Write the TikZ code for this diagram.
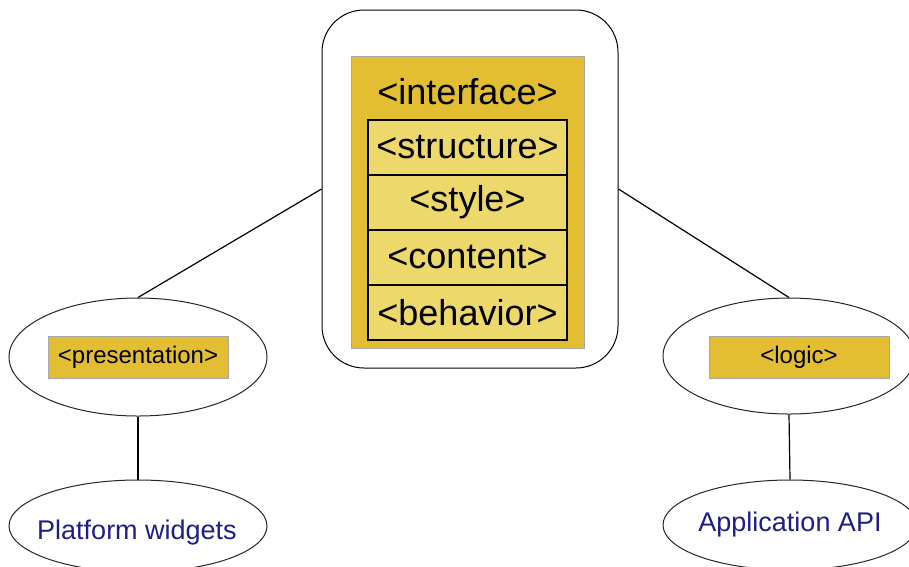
\documentclass[tikz,border=0pt]{standalone}
\usepackage{fontspec}
\setmainfont{Liberation Sans}
\usetikzlibrary{shapes.geometric}
\definecolor{gold}{HTML}{E3BE33}
\definecolor{paleband}{HTML}{EDD86C}
\definecolor{goldedge}{HTML}{A8A8A8}
\definecolor{navytext}{HTML}{1E1E86}
\tikzset{
  shell/.style={draw=black, line width=1pt, rounded corners=42pt, fill=white,
    minimum width=296pt, minimum height=358pt, inner sep=0pt},
  goldpanel/.style={draw=goldedge, line width=1pt, fill=gold, inner sep=0pt},
  bigtext/.style={font=\fontsize{36}{40}\selectfont},
  band/.style={draw=black, line width=1.2pt, fill=paleband, inner sep=0pt,
    minimum width=199pt, minimum height=55pt, bigtext},
  oval/.style={draw=black!85, line width=1pt, ellipse, fill=white, inner sep=0pt},
  tag/.style={goldpanel, minimum width=180pt, minimum height=42pt,
    font=\fontsize{24}{28}\selectfont},
  apitext/.style={text=navytext, inner sep=0pt, anchor=base,
    font=\fontsize{27}{30}\selectfont},
  link/.style={draw=black, line width=1.2pt}
}
\begin{document}
\begin{tikzpicture}[x=1pt, y=-1pt]
  \useasboundingbox (0,0) rectangle (909,566);

  % central interface block
  \node[shell] (shell) at (470,189) {};
  \node[goldpanel, minimum width=233pt, minimum height=292pt] (panel) at (467.5,202) {};
  \node[bigtext] (iface) at (467.5,92) {<interface>};
  \node[band] (structure) at (467.5,147.5) {<structure>};
  \node[band] (style)     at (467.5,202.5) {<style>};
  \node[band] (content)   at (467.5,257.5) {<content>};
  \node[band] (behavior)  at (467.5,312.5) {<behavior>};

  % presentation side
  \node[oval, minimum width=258pt, minimum height=118pt] (pres) at (138,357) {};
  \node[tag] (prestag) at (138,357) {<presentation>};
  \node[oval, minimum width=258pt, minimum height=92pt] (widgets) at (138,526) {};
  \node[apitext] (widgetstext) at (137,539) {Platform widgets};

  % logic side
  \node[oval, minimum width=252pt, minimum height=116pt] (logic) at (789,356) {};
  \node[tag] (logictag) at (799,357) {<logic>};
  \node[oval, minimum width=254pt, minimum height=90pt] (apinode) at (790,525) {};
  \node[apitext] (apitxt) at (790,531) {Application API};

  % connectors
  \draw[link] (shell.west) -- (pres.north);
  \draw[link] (shell.east) -- (logic.north);
  \draw[link] (pres.south) -- (widgets.north);
  \draw[link] (logic.south) -- (apinode.north);
\end{tikzpicture}
\end{document}
